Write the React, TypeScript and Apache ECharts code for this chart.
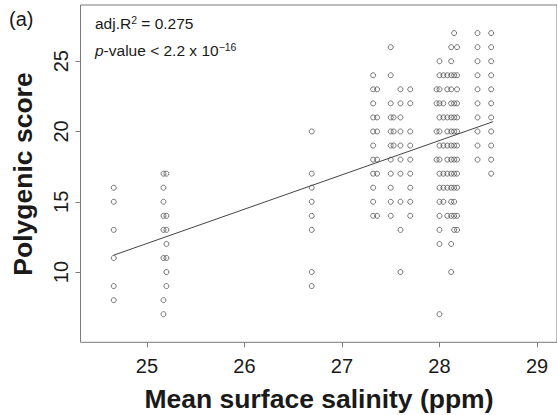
import React, { useEffect, useRef } from "react";
import * as echarts from "echarts";

// Salinity columns (x) and polygenic scores observed at each (y)
const colX: number[] = [24.66, 25.17, 25.2, 26.69, 27.32, 27.36, 27.5, 27.53, 27.6, 27.7, 27.97, 28.0, 28.04, 28.08, 28.12, 28.15, 28.18, 28.39, 28.53];
const colY: number[][] = [
  [16, 15, 13, 11, 9, 8],
  [17, 16, 15, 14, 13, 11, 8, 7],
  [17, 14, 13, 12, 11, 10, 9],
  [20, 17, 16, 15, 14, 13, 10, 9],
  [24, 23, 22, 21, 20, 19, 18, 17, 16, 15, 14],
  [23, 21, 20, 18, 17, 14],
  [26, 24, 22, 21, 20, 19, 18, 17, 16, 15, 14],
  [21, 20, 19],
  [23, 22, 21, 20, 19, 18, 17, 15, 13, 10],
  [23, 22, 20, 19, 18, 17, 16, 15, 14],
  [23, 22, 20, 18],
  [25, 24, 23, 22, 21, 20, 19, 18, 17, 16, 15, 14, 13, 12, 7],
  [24, 22, 21, 19, 17, 16, 15],
  [24, 23, 21, 20, 19, 18, 17, 16, 14],
  [26, 25, 24, 23, 22, 21, 20, 19, 18, 17, 16, 15, 14, 12, 10],
  [27, 24, 22, 21, 20, 19, 18, 17, 16, 15, 14, 13],
  [26, 24, 23, 22, 21, 20, 19, 18, 17, 16, 14, 13],
  [27, 26, 25, 24, 23, 22, 21, 20, 19, 18],
  [27, 26, 25, 24, 23, 22, 21, 20, 19, 18, 17],
];

// Fitted regression line end points
const fitX: number[] = [24.66, 28.55];
const fitY: number[] = [11.2, 20.7];

const xTicks: number[] = [25, 26, 27, 28, 29];
const yTicks: number[] = [10, 15, 20, 25];

const FONT = "'Liberation Sans', Arial, sans-serif";
const TXT = "#1a1a1a";
const AX = "#7a7a7a";

export default function App() {
  const ref = useRef<HTMLDivElement>(null);
  useEffect(() => {
    if (!ref.current) return;
    const chart = echarts.init(ref.current, null, { renderer: "svg" });
    const pts: number[][] = [];
    colX.forEach((x, i) => colY[i].forEach((y) => pts.push([x, y])));
    chart.setOption({
      animation: false,
      backgroundColor: "#ffffff",
      grid: {
        left: 80.5,
        top: 5,
        right: -5,
        bottom: 72.7,
        show: true,
        borderColor: AX,
        borderWidth: 1,
        backgroundColor: "transparent",
      },
      xAxis: {
        type: "value",
        min: 24.319,
        max: 29.205,
        splitLine: { show: false },
        axisLine: { show: false },
        axisTick: { show: true, length: 5, lineStyle: { color: AX }, customValues: xTicks },
        axisLabel: { customValues: xTicks, fontSize: 20, color: TXT, fontFamily: FONT, margin: 14 },
      },
      yAxis: {
        type: "value",
        min: 5,
        max: 29,
        splitLine: { show: false },
        axisLine: { show: false },
        axisTick: { show: true, length: 5, lineStyle: { color: AX }, customValues: yTicks },
        axisLabel: { customValues: yTicks, fontSize: 20, color: TXT, fontFamily: FONT, rotate: 90, margin: 10 },
      },
      series: [
        {
          type: "scatter",
          data: pts,
          symbol: "circle",
          symbolSize: 5,
          itemStyle: { color: "rgba(0,0,0,0)", borderColor: "#2a2a2a", borderWidth: 0.8 },
        },
        {
          type: "line",
          data: fitX.map((x, i) => [x, fitY[i]]),
          showSymbol: false,
          lineStyle: { color: "#444", width: 1 },
        },
      ],
      graphic: [
        { type: "text", x: 9, y: 19, style: { text: "(a)", fontSize: 20, fill: TXT, fontFamily: FONT, verticalAlign: "middle" } },
        {
          type: "text",
          x: 95,
          y: 23,
          style: {
            text: "adj.R{sup|2} = 0.275",
            fontSize: 15.5,
            fill: TXT,
            fontFamily: FONT,
            verticalAlign: "middle",
            rich: { sup: { fontSize: 10.5, fill: TXT, fontFamily: FONT, padding: [0, 0, 7, 0] } },
          },
        },
        {
          type: "text",
          x: 95,
          y: 50,
          style: {
            text: "{i|p}-value < 2.2 x 10{sup|\u221216}",
            fontSize: 15.5,
            fill: TXT,
            fontFamily: FONT,
            verticalAlign: "middle",
            rich: {
              i: { fontStyle: "italic", fontSize: 15.5, fill: TXT, fontFamily: FONT },
              sup: { fontSize: 10.5, fill: TXT, fontFamily: FONT, padding: [0, 0, 7, 0] },
            },
          },
        },
        {
          type: "text",
          x: 319,
          y: 399,
          style: {
            text: "Mean surface salinity (ppm)",
            fontSize: 26.5,
            fontWeight: "bold",
            fill: TXT,
            fontFamily: FONT,
            align: "center",
            verticalAlign: "middle",
          },
        },
        {
          type: "text",
          x: 23,
          y: 174,
          rotation: Math.PI / 2,
          style: {
            text: "Polygenic score",
            fontSize: 26.5,
            fontWeight: "bold",
            fill: TXT,
            fontFamily: FONT,
            align: "center",
            verticalAlign: "middle",
          },
        },
      ],
    });
    return () => chart.dispose();
  }, []);
  return <div ref={ref} style={{ position: "fixed", left: 0, top: 0, width: 557, height: 415 }} />;
}
